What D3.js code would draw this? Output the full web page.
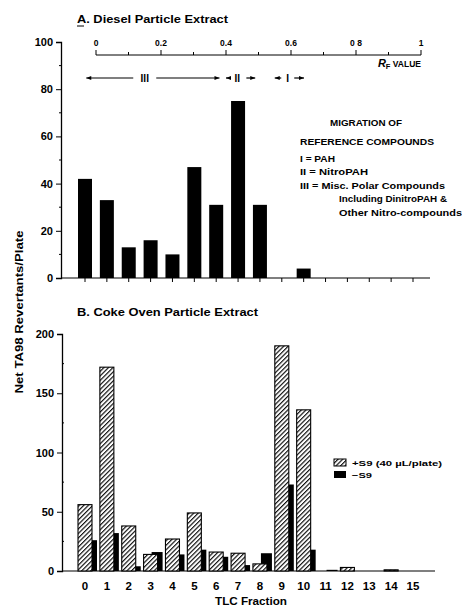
<!DOCTYPE html>
<html><head><meta charset="utf-8">
<script src="https://cdn.jsdelivr.net/npm/d3@7"></script>
<style>
body{margin:0;background:#fff;}
text{font-family:"Liberation Sans",Arial,sans-serif;font-weight:bold;fill:#000;}
</style></head>
<body>
<svg id="c" width="462" height="608"></svg>
<script>
const fractions = [0,1,2,3,4,5,6,7,8,9,10,11,12,13,14,15];
const dieselValues = [42,33,13,16,10,47,31,75,31,0,4,0,0,0,0,0];
const cokePlusS9 = [56,172,38,14,27,49,16,15,6,190,136,0,3,0,1,0];
const cokeMinusS9 = [26,32,4,16,14,18,12,5,15,73,18,1,0,0,0,0];
const dieselTicks = [0,20,40,60,80,100];
const dieselMinor = [10,30,50,70,90];
const cokeTicks = [0,50,100,150,200];
const cokeMinor = [25,75,125,175];
const rfTicks = [0,0.2,0.4,0.6,0.8,1];
const rfLabels = ["0","0.2","0.4","0.6","0 8","1"];
const bands = [{label:"III",from:-0.03,to:0.38,at:0.15},{label:"II",from:0.4,to:0.49,at:0.435},{label:"I",from:0.55,to:0.64,at:0.59}];

const svg = d3.select("#c");
function txt(g, s, x, y, size, len, anchor){
  const t = g.append("text").attr("x",x).attr("y",y).attr("font-size",size).text(s);
  if(anchor) t.attr("text-anchor",anchor);
  if(len) t.attr("textLength",len).attr("lengthAdjust","spacingAndGlyphs");
  return t;
}
const defs = svg.append("defs");
const pat = defs.append("pattern").attr("id","hatch").attr("patternUnits","userSpaceOnUse")
  .attr("width",3.2).attr("height",3.2).attr("patternTransform","rotate(45)");
pat.append("rect").attr("width",3.2).attr("height",3.2).attr("fill","#fff");
pat.append("line").attr("x1",0.6).attr("y1",0).attr("x2",0.6).attr("y2",3.2).attr("stroke","#000").attr("stroke-width",1.1);

const x = d3.scaleLinear().domain([0,15]).range([85,413]);

function styleAxis(ax){
  ax.select(".domain").attr("stroke-width",1.3);
  ax.selectAll("text").attr("font-size",11).style("font-family","Liberation Sans, Arial").style("font-weight","bold");
}

// ---------- Panel A ----------
const yA = d3.scaleLinear().domain([0,100]).range([278,42]);
const gA = svg.append("g");
txt(gA,"A. Diesel Particle Extract",77,23,10.5,151);
gA.append("line").attr("x1",77).attr("x2",84).attr("y1",26).attr("y2",26).attr("stroke","#000");
const axA = gA.append("g").attr("transform","translate(61,0)")
  .call(d3.axisLeft(yA).tickValues(dieselTicks).tickSize(5).tickPadding(3));
styleAxis(axA);
gA.selectAll(".mn").data(dieselMinor).join("line").attr("x1",61).attr("x2",59)
  .attr("y1",d=>yA(d)).attr("y2",d=>yA(d)).attr("stroke","#000");
gA.append("line").attr("x1",61).attr("x2",430).attr("y1",yA(0)).attr("y2",yA(0)).attr("stroke","#000").attr("stroke-width",1.2);
gA.selectAll(".tk").data(fractions).join("line").attr("x1",d=>x(d)).attr("x2",d=>x(d))
  .attr("y1",yA(0)).attr("y2",yA(0)+4).attr("stroke","#000");
gA.selectAll(".bar").data(fractions).join("rect")
  .attr("x",d=>x(d)-7).attr("width",14)
  .attr("y",d=>yA(dieselValues[d])).attr("height",d=>yA(0)-yA(dieselValues[d]))
  .attr("fill","#000");

// Rf axis
const rf = d3.scaleLinear().domain([0,1]).range([96,421]);
const rfG = gA.append("g").attr("transform","translate(0,55)");
rfG.append("line").attr("x1",rf(0)).attr("x2",rf(1)).attr("stroke","#000").attr("stroke-width",1);
rfG.selectAll(".mt").data(d3.range(0,1.0001,0.1)).join("line")
  .attr("x1",d=>rf(d)).attr("x2",d=>rf(d)).attr("y1",0).attr("y2",d=>(Math.round(d*10)%2===0)?-5:-3).attr("stroke","#000");
rfG.selectAll(".rl").data(rfTicks).join("text").attr("x",d=>rf(d)).attr("y",-9)
  .attr("text-anchor","middle").attr("font-size",8.5).text((d,i)=>rfLabels[i]);
rfG.append("text").attr("x",rf(1)).attr("y",12).attr("text-anchor","end").attr("font-size",8.5)
  .html('<tspan font-style="italic" font-size="11">R</tspan><tspan font-size="7.5" dy="2">F</tspan><tspan dy="-2"> VALUE</tspan>');
// migration bands
const bG = gA.append("g").attr("transform","translate(0,78)");
bands.forEach(b=>{
  const x1=rf(b.from), x2=rf(b.to), xm=rf(b.at), hw=b.label.length*2.5+4;
  bG.append("line").attr("x1",x1).attr("x2",xm-hw).attr("stroke","#000").attr("stroke-width",1.2);
  bG.append("line").attr("x1",xm+hw).attr("x2",x2).attr("stroke","#000").attr("stroke-width",1.2);
  bG.append("path").attr("d",`M${x1},0l5,-2v4z`).attr("fill","#000");
  bG.append("path").attr("d",`M${x2},0l-5,-2v4z`).attr("fill","#000");
  bG.append("text").attr("x",xm).attr("y",3.5).attr("text-anchor","middle").attr("font-size",10)
    .attr("font-family","Liberation Serif, serif").attr("font-weight","normal").text(b.label);
});
// annotation
txt(gA,"MIGRATION OF",330,126,9,72);
txt(gA,"REFERENCE COMPOUNDS",300,145,9,134);
txt(gA,"I = PAH",300,162,8.5,35);
txt(gA,"II = NitroPAH",300,175,8.5,68);
txt(gA,"III = Misc. Polar Compounds",300,188.5,8.5,145);
txt(gA,"Including DinitroPAH &",339,202,8.5,108);
txt(gA,"Other Nitro-compounds",339,215.5,8.5,123);

// ---------- Panel B ----------
const yB = d3.scaleLinear().domain([0,200]).range([571,334]);
const gB = svg.append("g");
txt(gB,"B. Coke Oven Particle Extract",77,316,10.5,181);
const axB = gB.append("g").attr("transform","translate(62,0)")
  .call(d3.axisLeft(yB).tickValues(cokeTicks).tickSize(5).tickPadding(3));
styleAxis(axB);
gB.selectAll(".mn").data(cokeMinor).join("line").attr("x1",62).attr("x2",64)
  .attr("y1",d=>yB(d)).attr("y2",d=>yB(d)).attr("stroke","#000");
gB.append("line").attr("x1",62).attr("x2",435).attr("y1",yB(0)).attr("y2",yB(0)).attr("stroke","#000").attr("stroke-width",1.2);
gB.selectAll(".bk").data(fractions).join("rect")
  .attr("x",d=>x(d)+1).attr("width",11)
  .attr("y",d=>yB(cokeMinusS9[d])).attr("height",d=>yB(0)-yB(cokeMinusS9[d]))
  .attr("fill","#000");
gB.selectAll(".hb").data(fractions.filter(d=>cokePlusS9[d]>0)).join("rect")
  .attr("x",d=>x(d)-7).attr("width",14)
  .attr("y",d=>yB(cokePlusS9[d])).attr("height",d=>yB(0)-yB(cokePlusS9[d]))
  .attr("fill","url(#hatch)").attr("stroke","#000").attr("stroke-width",1.1);
gB.selectAll(".xl").data(fractions).join("text").attr("x",d=>x(d)).attr("y",590)
  .attr("text-anchor","middle").attr("font-size",11.5).attr("font-weight","normal").text(d=>d);
txt(gB,"TLC Fraction",251,605,11.5,72,"middle").attr("font-weight","normal");
// legend
gB.append("rect").attr("x",334).attr("y",459).attr("width",12).attr("height",7).attr("fill","url(#hatch)").attr("stroke","#000");
txt(gB,"+S9 (40 \u00b5L/plate)",352,466,8,90);
gB.append("rect").attr("x",334).attr("y",471).attr("width",12).attr("height",7).attr("fill","#000");
txt(gB,"\u2212S9",352,478,8,20);

// shared y label
svg.append("text").attr("transform","translate(23,312) rotate(-90)").attr("text-anchor","middle")
  .attr("font-size",11.5).attr("textLength",163).attr("lengthAdjust","spacingAndGlyphs")
  .text("Net TA98 Revertants/Plate");
</script>
</body></html>
